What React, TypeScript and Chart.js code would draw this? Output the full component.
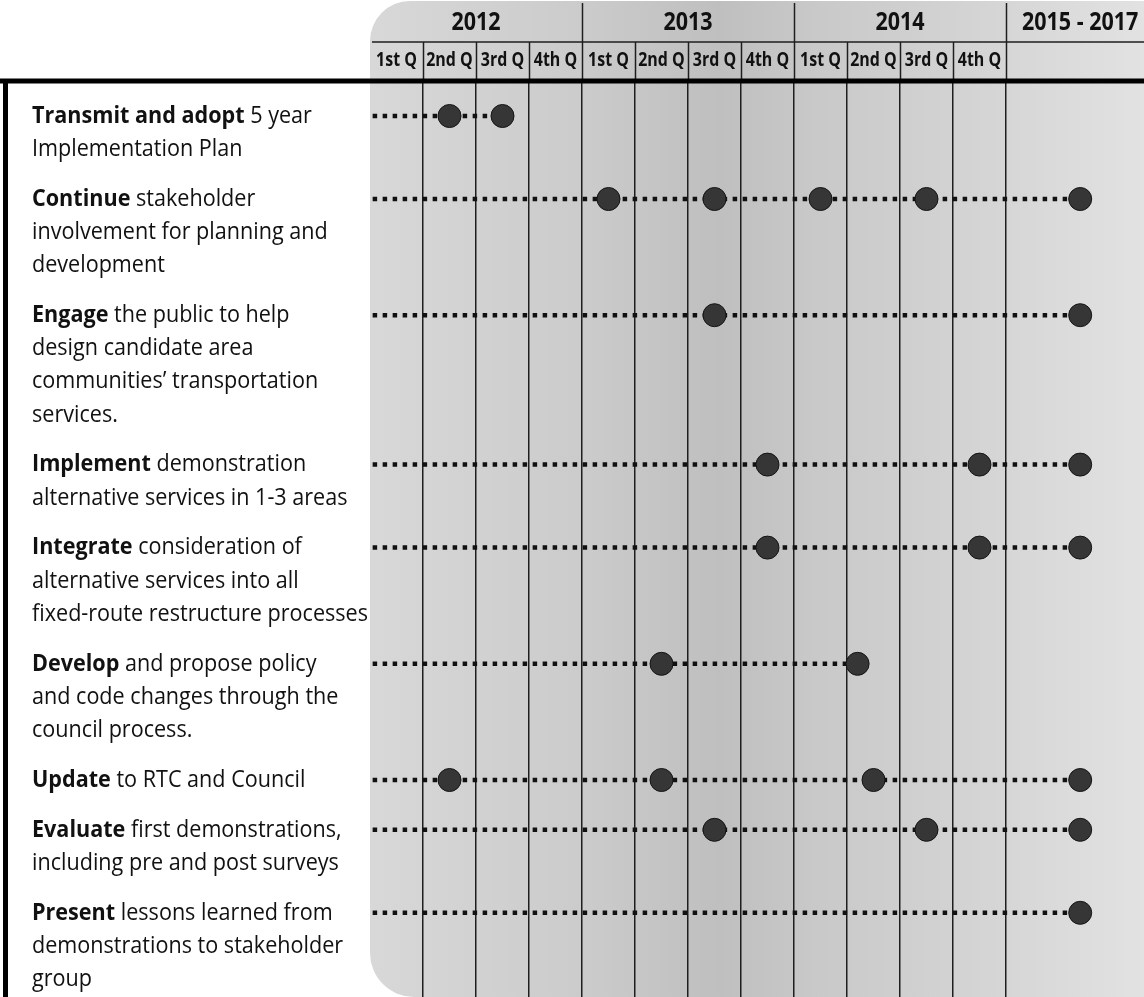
import React, { useEffect, useRef } from 'react';
import { Chart, registerables } from 'chart.js';

Chart.register(...registerables);

// ---------- data ----------
const yearLabels = ['2012', '2013', '2014', '2015 - 2017'];
const yearStarts = [0, 4, 8, 12];
const yearEnds = [4, 8, 12, 14.8];
const quarterLabels = [
  '1st Q', '2nd Q', '3rd Q', '4th Q',
  '1st Q', '2nd Q', '3rd Q', '4th Q',
  '1st Q', '2nd Q', '3rd Q', '4th Q',
];

const taskBold = [
  'Transmit and adopt',
  'Continue',
  'Engage',
  'Implement',
  'Integrate',
  'Develop',
  'Update',
  'Evaluate',
  'Present',
];

const taskText = [
  [' 5 year', 'Implementation Plan'],
  [' stakeholder', 'involvement for planning and', 'development'],
  [' the public to help', 'design candidate area', 'communities\u2019 transportation', 'services.'],
  [' demonstration', 'alternative services in 1-3 areas'],
  [' consideration of', 'alternative services into all', 'fixed-route restructure processes'],
  [' and propose policy', 'and code changes through the', 'council process.'],
  [' to RTC and Council'],
  [' first demonstrations,', 'including pre and post surveys'],
  [' lessons learned from', 'demonstrations to stakeholder', 'group'],
];

// milestone positions, in quarters counted from the start of 2012 (13.4 = 2015-2017 period)
const milestonesTransmit = [1.5, 2.5];
const milestonesContinue = [4.5, 6.5, 8.5, 10.5, 13.4];
const milestonesEngage = [6.5, 13.4];
const milestonesImplement = [7.5, 11.5, 13.4];
const milestonesIntegrate = [7.5, 11.5, 13.4];
const milestonesDevelop = [5.5, 9.2];
const milestonesUpdate = [1.5, 5.5, 9.5, 13.4];
const milestonesEvaluate = [6.5, 10.5, 13.4];
const milestonesPresent = [13.4];

const milestones = [
  milestonesTransmit,
  milestonesContinue,
  milestonesEngage,
  milestonesImplement,
  milestonesIntegrate,
  milestonesDevelop,
  milestonesUpdate,
  milestonesEvaluate,
  milestonesPresent,
];

const timelineStart = 0.05;

// ---------- layout constants ----------
const W = 1144;
const H = 997;
const FONT = '"Open Sans", "Noto Sans", Arial, sans-serif';
const LABEL_SIZE = 24;
const PARA_GAP = 0.5; // extra gap between tasks, in text lines
const LABEL_LEFT = 32;
const LABEL_MAXW = 336;

// vertical position of each task (in text-line units), derived from label line counts
const taskRow: number[] = [];
{
  let acc = 0;
  for (let i = 0; i < taskText.length; i++) {
    taskRow.push(acc);
    acc += taskText[i].length + PARA_GAP;
  }
}

const backgroundPlugin = {
  id: 'bgPanel',
  beforeDraw(chart: any) {
    const ctx = chart.ctx as CanvasRenderingContext2D;
    const xs = chart.scales.x;
    const left = xs.getPixelForValue(0);
    ctx.save();
    ctx.fillStyle = '#ffffff';
    ctx.fillRect(0, 0, chart.width, chart.height);
    const g = ctx.createLinearGradient(left, 0, chart.width, 0);
    g.addColorStop(0, '#d8d8d8');
    g.addColorStop(0.28, '#cbcbcb');
    g.addColorStop(0.45, '#bfbfbf');
    g.addColorStop(0.58, '#c9c9c9');
    g.addColorStop(0.82, '#d6d6d6');
    g.addColorStop(1, '#e2e2e2');
    ctx.fillStyle = g;
    ctx.beginPath();
    (ctx as any).roundRect(left, 1, chart.width - left + 60, chart.height - 1, [40, 0, 0, 44]);
    ctx.fill();
    ctx.restore();
  },
};

const headerPlugin = {
  id: 'header',
  afterDraw(chart: any) {
    const ctx = chart.ctx as CanvasRenderingContext2D;
    const xs = chart.scales.x;
    const top = chart.chartArea.top;
    const sepY = 42;
    ctx.save();
    ctx.strokeStyle = '#1e1e1e';
    ctx.lineWidth = 1.5;
    ctx.beginPath();
    ctx.moveTo(xs.getPixelForValue(0) + 2, sepY);
    ctx.lineTo(chart.width, sepY);
    ctx.stroke();
    for (let i = 1; i < yearStarts.length; i++) {
      const px = Math.round(xs.getPixelForValue(yearStarts[i])) + 0.5;
      ctx.beginPath();
      ctx.moveTo(px, 3);
      ctx.lineTo(px, top);
      ctx.stroke();
    }
    for (let q = 1; q < quarterLabels.length; q++) {
      if (yearStarts.includes(q)) continue;
      const px = Math.round(xs.getPixelForValue(q)) + 0.5;
      ctx.beginPath();
      ctx.moveTo(px, sepY);
      ctx.lineTo(px, top);
      ctx.stroke();
    }
    ctx.fillStyle = '#111';
    ctx.textBaseline = 'middle';
    ctx.textAlign = 'center';
    const sx = 0.86;
    ctx.font = `bold 25px ${FONT}`;
    for (let i = 0; i < yearLabels.length; i++) {
      const c = xs.getPixelForValue((yearStarts[i] + yearEnds[i]) / 2);
      ctx.save();
      ctx.scale(sx, 1);
      ctx.fillText(yearLabels[i], c / sx, 23);
      ctx.restore();
    }
    ctx.font = `bold 19px ${FONT}`;
    for (let q = 0; q < quarterLabels.length; q++) {
      const c = xs.getPixelForValue(q + 0.5);
      ctx.save();
      ctx.scale(0.84, 1);
      ctx.fillText(quarterLabels[q], c / 0.84, 61);
      ctx.restore();
    }
    ctx.strokeStyle = '#000';
    ctx.lineWidth = 5;
    ctx.beginPath();
    ctx.moveTo(0, top);
    ctx.lineTo(chart.width, top);
    ctx.stroke();
    ctx.beginPath();
    ctx.moveTo(5.5, top);
    ctx.lineTo(5.5, chart.height);
    ctx.stroke();
    ctx.restore();
  },
};

const labelPlugin = {
  id: 'taskLabels',
  afterDraw(chart: any) {
    const ctx = chart.ctx as CanvasRenderingContext2D;
    const ys = chart.scales.y;
    ctx.save();
    ctx.textBaseline = 'middle';
    ctx.textAlign = 'left';
    ctx.fillStyle = '#111';
    const bold = `bold ${LABEL_SIZE}px ${FONT}`;
    const reg = `${LABEL_SIZE}px ${FONT}`;
    let maxW = 0;
    for (let i = 0; i < taskText.length; i++) {
      ctx.font = bold;
      const bw = ctx.measureText(taskBold[i]).width;
      ctx.font = reg;
      maxW = Math.max(maxW, bw + ctx.measureText(taskText[i][0]).width);
      for (let k = 1; k < taskText[i].length; k++) {
        maxW = Math.max(maxW, ctx.measureText(taskText[i][k]).width);
      }
    }
    const sx = Math.min(1, LABEL_MAXW / maxW);
    ctx.scale(sx, 1);
    const x0 = LABEL_LEFT / sx;
    for (let i = 0; i < taskText.length; i++) {
      const py0 = ys.getPixelForValue(taskRow[i]);
      ctx.font = bold;
      ctx.fillText(taskBold[i], x0, py0);
      const bw = ctx.measureText(taskBold[i]).width;
      ctx.font = reg;
      ctx.fillText(taskText[i][0], x0 + bw, py0);
      for (let k = 1; k < taskText[i].length; k++) {
        ctx.fillText(taskText[i][k], x0, ys.getPixelForValue(taskRow[i] + k));
      }
    }
    ctx.restore();
  },
};

export default function App() {
  const ref = useRef<HTMLCanvasElement>(null);
  useEffect(() => {
    document.body.style.margin = '0';
    document.body.style.overflow = 'hidden';
    const canvas = ref.current!;
    const chartLeft = 370;
    const quarterPx = 53;
    const rowTopPx = 116;
    const linePx = 33.2;
    const top = 81;
    const xMax = (W - chartLeft) / quarterPx;
    const yMin = -(rowTopPx - top) / linePx;
    const yMax = (H - rowTopPx) / linePx;

    const datasets = milestones.map((ms, i) => ({
      label: taskBold[i],
      data: [{ x: timelineStart, y: taskRow[i] }, ...ms.map((x) => ({ x, y: taskRow[i] }))],
      showLine: true,
      borderColor: '#111111',
      borderWidth: 4.5,
      borderDash: [4.5, 5.5],
      borderCapStyle: 'butt' as const,
      pointRadius: (c: any) => (c.dataIndex === 0 ? 0 : 11.5),
      pointHoverRadius: (c: any) => (c.dataIndex === 0 ? 0 : 11.5),
      pointBackgroundColor: '#363636',
      pointBorderColor: '#151515',
      pointBorderWidth: 1,
      tension: 0,
    }));

    const chart = new Chart(canvas, {
      type: 'scatter',
      data: { datasets },
      options: {
        responsive: false,
        animation: false,
        events: [],
        clip: false as any,
        layout: { autoPadding: false, padding: { left: chartLeft, top, right: 0, bottom: 0 } },
        plugins: {
          legend: { display: false },
          tooltip: { enabled: false },
        },
        scales: {
          x: {
            type: 'linear',
            position: 'top',
            min: 0,
            max: xMax,
            ticks: { display: false },
            border: { display: false },
            grid: { drawTicks: false, color: '#1e1e1e', lineWidth: 1.5 },
            afterBuildTicks: (s: any) => {
              const t = [];
              for (let q = 1; q <= 12; q++) t.push({ value: q });
              s.ticks = t;
            },
            afterFit: (s: any) => {
              s.height = 0;
            },
          },
          y: {
            type: 'linear',
            reverse: true,
            min: yMin,
            max: yMax,
            display: false,
          },
        },
      },
      plugins: [backgroundPlugin, headerPlugin, labelPlugin],
    });
    return () => chart.destroy();
  }, []);
  return (
    <canvas
      ref={ref}
      width={W}
      height={H}
      style={{ display: 'block', width: W, height: H }}
    />
  );
}
